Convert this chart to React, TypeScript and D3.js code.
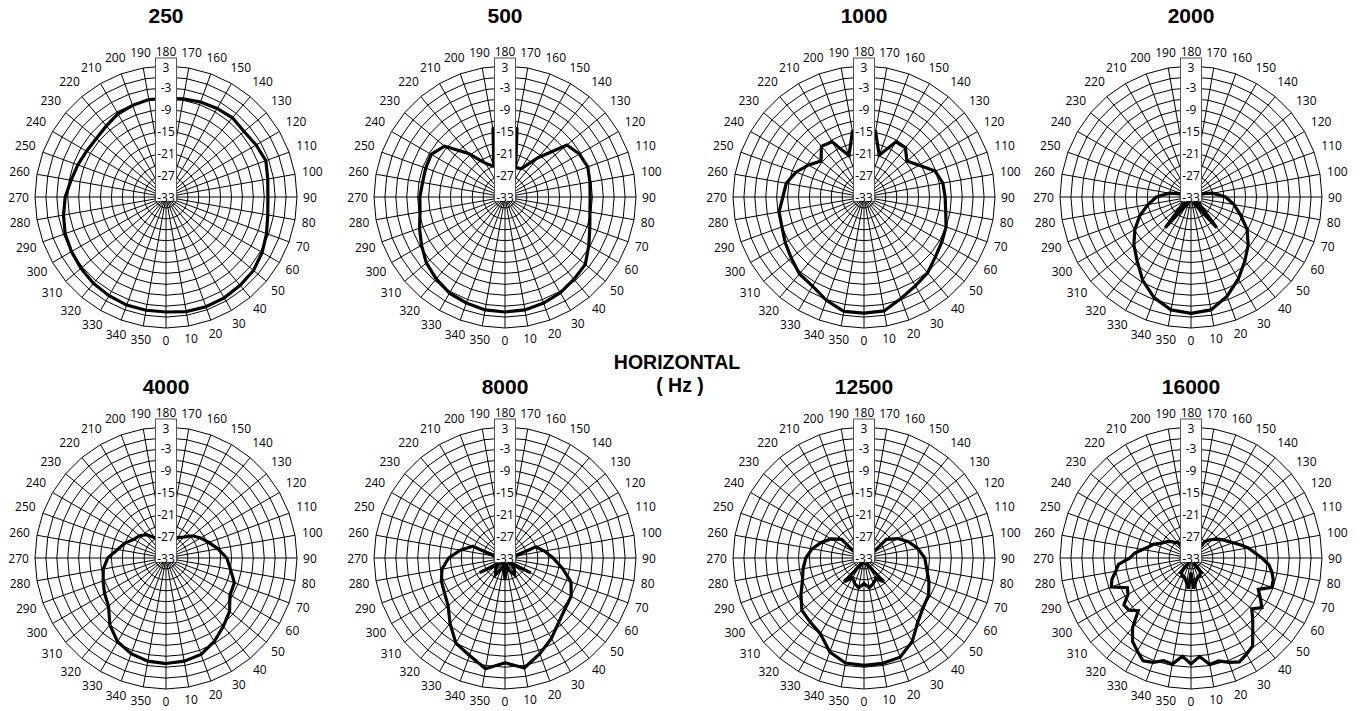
import * as d3 from 'd3';

// response in dB, one value per step, starting at 0° (front) and going round
const FREQUENCIES = ['250', '500', '1000', '2000', '4000', '8000', '12500', '16000'];

const DB_250 = [
  -1.4, -1.0, -0.9, -1.0, -1.3, -1.6, -2.5, -3.6, -4.6, -5.0, -4.6, -3.8,
  -4.4, -5.0, -4.6, -4.9, -5.2, -5.6, -5.9, -5.8, -6.2, -6.6, -7.5, -8.0,
  -7.8, -7.2, -6.5, -5.3, -4.4, -3.5, -3.0, -2.5, -2.0, -1.7, -1.4, -1.4,
];
const DB_500 = [
  -1.4, -1.5, -2.0, -2.6, -3.5, -4.2, -6.4, -8.2, -9.3, -9.6, -9.3, -8.8,
  -9.4, -10.8, -18.9, -24.0, -24.5, -14.0, -13.0, -14.0, -24.0, -22.3, -17.4, -11.3,
  -9.6, -9.8, -10.0, -9.6, -9.3, -8.0, -6.5, -4.8, -3.6, -2.5, -2.0, -1.5,
];
const DB_1000 = [
  -1.1, -1.2, -3.3, -4.8, -5.8, -7.4, -8.3, -9.0, -10.2, -10.7, -11.0, -12.2,
  -15.5, -17.6, -15.3, -15.5, -20.8, -14.7, -14.0, -14.7, -20.9, -15.5, -14.8, -17.6,
  -15.4, -13.1, -11.3, -10.7, -9.3, -9.0, -8.0, -6.9, -5.4, -4.7, -2.8, -1.1,
];
const DB_2000 = [
  -1.0, -1.5, -4.0, -7.0, -10.0, -12.5, -15.2, -18.5, -21.0, -23.5, -27.0, -30.5,
  -34.0, -36.0, -44.0, -35.5, -34.0, -33.5, -33.5, -33.5, -34.0, -35.5, -44.0, -36.0,
  -34.0, -30.5, -27.0, -23.5, -21.0, -18.0, -15.2, -12.5, -10.0, -6.5, -3.5, -1.5,
];
const DB_4000 = [
  -4.0, -4.2, -4.8, -6.5, -8.5, -10.2, -12.7, -13.0, -15.0, -16.3, -18.5, -20.5,
  -22.0, -23.5, -25.5, -26.5, -28.0, -29.0, -29.0, -29.0, -28.0, -26.5, -24.6, -23.5,
  -22.8, -21.0, -19.5, -17.0, -15.5, -14.6, -13.5, -12.4, -9.0, -6.4, -5.0, -4.2,
];
const DB_8000 = [
  -4.2, -2.3, -5.0, -7.5, -10.0, -11.4, -12.0, -13.7, -17.0, -19.8, -22.0, -24.0,
  -41.0, -35.0, -37.0, -38.3, -36.5, -35.0, -39.0, -35.0, -36.9, -38.3, -37.0, -35.0,
  -41.2, -23.6, -20.5, -17.5, -15.4, -14.4, -13.8, -12.6, -9.5, -6.0, -4.5, -2.1,
];
const DB_12500 = [
  -3.5, -3.6, -4.0, -6.5, -10.0, -11.8, -12.5, -14.0, -15.5, -16.3, -18.0, -20.0,
  -22.3, -25.0, -41.5, -39.3, -40.5, -41.3, -40.0, -41.3, -40.5, -39.5, -41.5, -25.0,
  -22.5, -20.5, -18.5, -17.0, -16.0, -15.0, -13.0, -10.7, -10.0, -9.0, -5.5, -3.7,
];
// 5° steps
const DB_16000 = [
  -3.9, -5.8, -3.3, -3.7, -2.5, -1.5, -2.5, -3.5, -6.6, -9.0, -11.2, -9.2,
  -11.0, -12.6, -9.4, -9.6, -10.4, -11.5, -13.5, -15.5, -17.0, -19.0, -20.7, -22.0,
  -23.0, -24.0, -25.0, -26.0, -27.0, -38.0, -38.0, -38.5, -38.5, -39.0, -40.0, -41.5,
  -37.0, -41.5, -40.0, -39.0, -38.5, -38.5, -38.0, -38.0, -27.5, -27.0, -26.0, -25.0,
  -24.5, -23.5, -22.0, -21.0, -19.5, -17.5, -16.2, -13.0, -12.0, -10.5, -9.7, -13.7,
  -13.0, -10.5, -10.7, -12.5, -8.0, -5.0, -3.5, -1.8, -2.5, -3.8, -3.4, -5.9,
];

const SERIES = [DB_250, DB_500, DB_1000, DB_2000, DB_4000, DB_8000, DB_12500, DB_16000];

const RING_VALUES = d3.range(3, -31, -3);
const DB_LABELS = [3, -3, -9, -15, -21, -27, -33];
const ANGLE_TICKS = d3.range(0, 360, 10);

const W = 1361;
const H = 711;
const R = 131;
const COL_X = [166, 505, 864, 1191];
const ROW_Y = [197, 558];
const TITLE_DY = [-174, -164];
const LABEL_FONT = "'Open Sans', 'DejaVu Sans', sans-serif";
const TITLE_FONT = "'Liberation Sans', Arial, sans-serif";

const toRad = (deg: number) => Math.PI - (deg * Math.PI) / 180;
const rScale = d3.scaleLinear().domain([-33, 3]).range([0, R]);

interface PolarProps {
  cx: number;
  cy: number;
  title: string;
  values: number[];
  titleDy: number;
}

const Polar = ({ cx, cy, title, values, titleDy }: PolarProps) => {
  const step = 360 / values.length;

  // values under -33 get a negative radius and fold through the centre
  const curve = d3
    .lineRadial<number>()
    .angle((_, i) => toRad(i * step))
    .radius((d) => rScale(d))
    .curve(d3.curveLinearClosed);

  const ring = (v: number) =>
    d3
      .lineRadial<number>()
      .angle((a) => toRad(a))
      .radius(rScale(v))
      .curve(d3.curveLinearClosed)(ANGLE_TICKS) || '';

  return (
    <g transform={`translate(${cx},${cy})`}>
      {/* grid */}
      <g fill="none" stroke="#000" strokeWidth={1}>
        {RING_VALUES.map((v) => (
          <path key={v} d={ring(v)} />
        ))}
        {ANGLE_TICKS.map((a) => (
          <line
            key={a}
            x1={0}
            y1={0}
            x2={R * Math.sin((a * Math.PI) / 180)}
            y2={R * Math.cos((a * Math.PI) / 180)}
          />
        ))}
      </g>

      <path
        d={curve(values) || ''}
        fill="none"
        stroke="#000"
        strokeWidth={3.2}
        strokeLinejoin="miter"
      />

      {/* dB scale box */}
      <rect x={-10.5} y={-139} width={21} height={143.5} fill="#fff" stroke="#555" strokeWidth={1} />
      <g fontFamily={LABEL_FONT} fontSize={12} textAnchor="middle">
        {DB_LABELS.map((v) => (
          <text key={v} x={0} y={v === 3 ? -rScale(v) + 1.5 : -rScale(v)} dominantBaseline="central">
            {v}
          </text>
        ))}
      </g>

      {/* angle labels */}
      <g fontFamily={LABEL_FONT} fontSize={12} textAnchor="middle">
        {ANGLE_TICKS.map((a) => {
          const s = Math.sin((a * Math.PI) / 180);
          const c = Math.cos((a * Math.PI) / 180);
          const halfW = String(a).length * 3.45;
          const halfH = c < 0 ? 8.5 : 6;
          const off = R + 6 + halfW * Math.abs(s) + halfH * Math.abs(c);
          return (
            <text key={a} x={off * s} y={off * c} dominantBaseline="central">
              {a}
            </text>
          );
        })}
      </g>

      <text
        x={0}
        y={titleDy}
        textAnchor="middle"
        fontFamily={TITLE_FONT}
        fontWeight="bold"
        fontSize={21}
      >
        {title}
      </text>
    </g>
  );
};

export default function App() {
  return (
    <svg
      width={W}
      height={H}
      viewBox={`0 0 ${W} ${H}`}
      style={{ position: 'absolute', left: 0, top: 0, background: '#fff' }}
    >
      {FREQUENCIES.map((f, i) => {
        const row = Math.floor(i / 4);
        const col = i % 4;
        return (
          <Polar
            key={f}
            cx={COL_X[col]}
            cy={ROW_Y[row]}
            title={f}
            values={SERIES[i]}
            titleDy={TITLE_DY[row]}
          />
        );
      })}
      <g fontFamily={TITLE_FONT} fontWeight="bold" fontSize={19.5} textAnchor="middle">
        <text x={677} y={369}>HORIZONTAL</text>
        <text x={680} y={392}>( Hz )</text>
      </g>
    </svg>
  );
}
